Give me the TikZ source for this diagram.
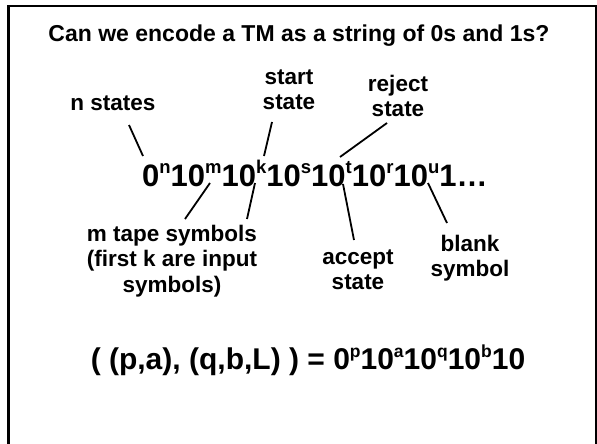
\documentclass[tikz,border=0pt]{standalone}
\usepackage{fontspec}
\setmainfont{Liberation Sans}
\newcommand\supx[1]{\raisebox{0.4em}{\fontsize{18.5}{19}\selectfont #1}}
\newcommand\supy[1]{\raisebox{0.4em}{\fontsize{17.5}{19}\selectfont #1}}
\begin{document}
\begin{tikzpicture}[x=1pt,y=-1pt,
  lbl/.style={font=\fontsize{22.5}{25.5}\selectfont\bfseries, align=center, inner sep=0pt},
  big/.style={font=\fontsize{31}{34}\selectfont\bfseries, inner sep=0pt},
  frm/.style={font=\fontsize{30}{34}\selectfont\bfseries, inner sep=0pt},
  ttl/.style={font=\fontsize{23}{26}\selectfont\bfseries, inner sep=0pt},
  conn/.style={line width=1.8pt}]
\useasboundingbox (0,0) rectangle (597,444);
\begin{scope}
\clip (0,0) rectangle (597,444);
\draw[line width=2.6pt] (8.7,6.2) rectangle (596.5,480);
\end{scope}
\node[ttl, anchor=base] (title) at (299,42) {Can we encode a TM as a string of 0s and 1s?};
\node[big, anchor=base west] (str) at (142,186)
  {0\supx{n}10\supx{m}10\supx{k}10\supx{s}10\supx{t}10\supx{r}10\supx{u}1\ldots};
\node[lbl] (nst) at (113,103) {n states};
\node[lbl] (sst) at (289,90) {start\\state};
\node[lbl] (rst) at (398,96) {reject\\state};
\node[lbl] (mts) at (172,261) {m tape symbols\\(first k are input\\symbols)};
\node[lbl] (acc) at (358,270) {accept\\state};
\node[lbl] (blk) at (470,258) {blank\\symbol};
\node[frm, anchor=center] (form) at (308,360)
  {( (p,a), (q,b,L) ) = 0\supy{p}10\supy{a}10\supy{q}10\supy{b}10};
\coordinate (nA) at (129,125); \coordinate (nB) at (143,156);
\coordinate (sA) at (272,122); \coordinate (sB) at (264,156);
\coordinate (rA) at (387,123); \coordinate (rB) at (340,157);
\coordinate (mA) at (210,183); \coordinate (mB) at (185,219);
\coordinate (kA) at (255,183); \coordinate (kB) at (247,219);
\coordinate (aA) at (343,184); \coordinate (aB) at (354,240);
\coordinate (bA) at (428,183); \coordinate (bB) at (447,223);
\draw[conn] (nA) -- (nB);
\draw[conn] (sA) -- (sB);
\draw[conn] (rA) -- (rB);
\draw[conn] (mA) -- (mB);
\draw[conn] (kA) -- (kB);
\draw[conn] (aA) -- (aB);
\draw[conn] (bA) -- (bB);
\end{tikzpicture}
\end{document}
